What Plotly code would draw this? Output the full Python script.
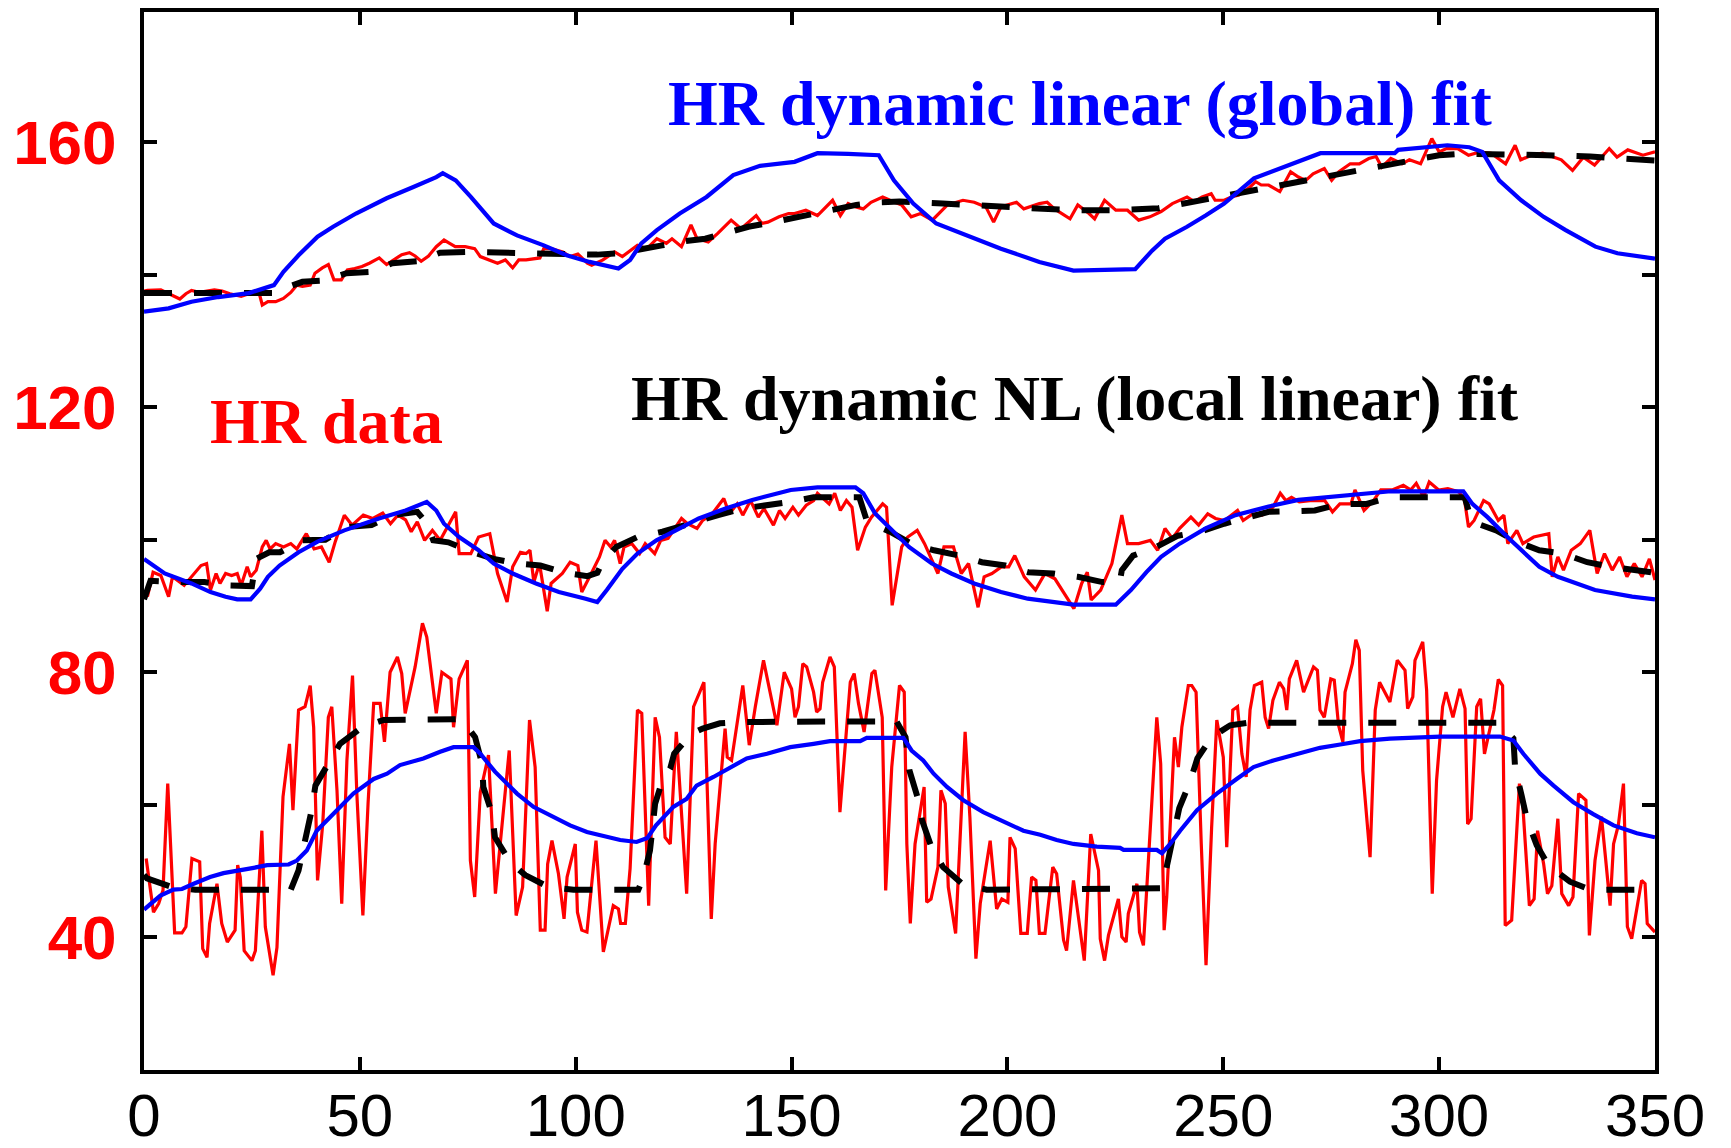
import plotly.graph_objects as go

# ---------------- upper record ----------------
upper_data_t = [0, 0.8, 3.9, 5.7, 8.3, 9.7, 11.0, 12.8, 15.0, 16.3, 18.1, 19.9, 22.5, 24.3, 26.5, 27.4, 28.7, 30.5,
                32.3, 34.0, 35.4, 36.7, 38.5, 39.6, 41.3, 42.7, 44.0, 45.7, 47.1, 48.8, 50.5, 52.2, 54.5, 56.2, 58.0,
                59.7, 61.5, 62.8, 64.2, 65.9, 67.7, 69.5, 70.8, 72.1, 74.4, 76.6, 77.9, 80.1, 81.9, 83.7, 85.4, 86.8,
                88.5, 91.7, 92.6, 94.3, 97.0, 98.7, 100.5, 102.7, 103.7, 106.3, 109.0, 110.8, 114.3, 116.5, 118.8,
                121.0, 122.3, 124.5, 126.7, 128.1, 130.7, 132.9, 136.0, 138.3, 140.0, 141.8, 143.1, 144.5, 147.1,
                149.3, 150.7, 153.3, 156.0, 159.5, 161.3, 163.1, 164.9, 166.6, 168.4, 171.1, 172.8, 175.5, 177.7,
                179.9, 182.6, 186.1, 189.7, 192.3, 195.0, 196.8, 198.5, 202.1, 203.8, 207.4, 209.2, 210.9, 214.5,
                216.3, 218.9, 220.2, 222.5, 225.1, 227.8, 230.4, 233.0, 235.6, 238.2, 239.9, 241.6, 243.3, 245.1,
                247.2, 248.1, 250.2, 251.9, 253.6, 256.2, 257.5, 258.8, 260.5, 263.1, 265.6, 267.4, 269.1, 270.8,
                273.4, 275.1, 276.8, 279.4, 281.5, 283.7, 285.4, 286.7, 288.8, 291.4, 293.1, 295.7, 298.3, 300.0,
                301.7, 304.3, 306.8, 309.4, 312.0, 315.4, 317.6, 318.9, 321.4, 324.0, 326.6, 328.3, 330.9, 333.4,
                336.0, 339.4, 341.2, 343.7, 347.2, 350.0]
upper_data_hr = [137.5, 137.6, 137.7, 137.1, 136.3, 137.1, 137.6, 137.3, 137.6, 137.7, 137.5, 137.1, 136.7, 137.1,
                 137.6, 135.4, 135.9, 135.9, 136.4, 137.3, 138.4, 138.2, 138.4, 140.2, 141.0, 141.5, 139.2, 139.2,
                 140.7, 140.9, 141.2, 141.7, 142.5, 141.5, 142.2, 143.0, 143.3, 142.8, 142.0, 142.8, 144.2, 145.2,
                 144.7, 144.2, 144.2, 143.9, 142.7, 142.2, 141.7, 142.2, 141.0, 142.2, 142.2, 142.5, 143.9, 143.9,
                 143.4, 142.7, 143.1, 141.7, 141.4, 142.2, 143.4, 142.7, 144.4, 143.9, 145.4, 144.7, 145.4, 144.2,
                 147.5, 145.4, 144.9, 146.2, 148.2, 146.9, 147.9, 148.9, 147.7, 147.9, 148.7, 149.2, 149.2, 149.7,
                 148.9, 151.2, 148.9, 150.7, 150.2, 149.9, 150.9, 151.7, 151.2, 150.5, 148.7, 149.2, 148.2, 150.5,
                 151.2, 150.9, 150.2, 147.9, 150.2, 150.9, 149.9, 150.7, 150.9, 149.9, 148.4, 150.5, 149.2, 148.4,
                 151.2, 149.7, 149.7, 148.2, 148.7, 149.5, 150.7, 151.2, 151.7, 151.0, 151.7, 152.2, 151.2, 151.2,
                 151.7, 152.0, 153.2, 154.0, 153.5, 153.5, 152.5, 155.5, 154.7, 154.2, 155.2, 156.0, 154.2, 155.5,
                 156.7, 156.7, 157.5, 157.8, 156.2, 157.5, 156.7, 157.3, 156.7, 160.5, 158.5, 159.0, 159.0, 158.0,
                 158.5, 158.3, 156.7, 159.5, 157.3, 158.0, 158.3, 157.7, 157.3, 155.7, 157.7, 156.5, 159.0, 157.7,
                 158.8, 158.0, 158.5]

upper_nl_t = [0, 30, 31, 36.7, 42, 46.9, 52.7, 57.5, 63.3, 68.6, 75.3, 100, 105, 110, 115, 120, 125, 130, 135, 140,
              145, 150, 155, 160, 165, 170, 175, 185, 195, 205, 215, 225, 230, 235, 240, 245, 250, 255, 260, 265,
              270, 275, 280, 285, 290, 295, 300, 305, 315, 325, 335, 345, 350]
upper_nl_hr = [137.2, 137.2, 137.6, 138.9, 139.1, 140.2, 140.4, 141.7, 142.0, 143.3, 143.4, 143.2, 143.0, 143.2,
               143.9, 144.4, 145.0, 145.4, 146.3, 147.2, 147.8, 148.5, 149.2, 149.9, 150.5, 150.9, 151.0, 150.7,
               150.4, 150.0, 149.7, 149.7, 149.8, 150.0, 150.6, 151.2, 152.0, 152.6, 153.2, 153.7, 154.2, 154.8,
               155.4, 156.0, 156.6, 157.3, 158.0, 158.2, 158.2, 158.0, 157.8, 157.4, 157.2]

upper_lin_t = [0, 5.7, 11, 17.2, 24.3, 30.1, 32.3, 35.8, 40.2, 43.8, 49.1, 56.2, 62.4, 67.7, 69.2, 72.2, 75.7, 81,
               86.4, 92.6, 97.9, 103.2, 109.9, 112.6, 115.2, 118.8, 124.1, 130.3, 136.5, 142.7, 150.7, 156, 163.1,
               170.2, 173.7, 178.2, 183.5, 191.5, 198.5, 207.4, 215.3, 229.6, 233.5, 236.5, 241.6, 245.9, 250.2,
               257.1, 263.1, 272.5, 289.7, 290.5, 301.9, 307, 310, 313.9, 319, 324.2, 329.3, 336.2, 341.3, 350]
upper_lin_hr = [134.4, 134.9, 135.9, 136.6, 137.2, 138.4, 140.4, 142.9, 145.7, 147.2, 149.2, 151.5, 153.2, 154.7,
                155.3, 154.2, 151.7, 147.7, 145.9, 144.4, 142.9, 141.9, 140.9, 142.2, 144.7, 146.7, 149.2, 151.7,
                155.0, 156.4, 157.0, 158.3, 158.2, 158.0, 154.2, 150.7, 147.7, 145.7, 143.9, 141.9, 140.6, 140.8,
                143.6, 145.4, 147.2, 148.9, 150.7, 154.5, 156.0, 158.3, 158.3, 158.8, 159.5, 159.2, 158.5, 154.2,
                151.2, 148.7, 146.7, 144.2, 143.2, 142.4]

# ---------------- middle record ----------------
middle_data_t = [0.8, 2.1, 3.9, 5.7, 6.6, 9.3, 13.2, 14.5, 15.4, 16.7, 17.6, 18.9, 20.3, 21.6, 22.5, 23.9, 24.7,
                 26.0, 27.4, 28.3, 29.2, 30.5, 32.3, 34.0, 35.4, 37.6, 39.4, 41.1, 42.9, 44.3, 46.4, 48.2, 50.8,
                 53.0, 55.3, 57.1, 58.8, 60.6, 61.9, 63.3, 65.0, 66.8, 68.6, 69.9, 72.2, 73.0, 75.7, 77.5, 80.1,
                 81.9, 84.1, 85.4, 87.2, 88.5, 89.4, 90.3, 91.6, 93.4, 94.3, 96.9, 98.7, 100.5, 101.4, 103.6, 105.5,
                 106.8, 108.1, 109.0, 110.3, 111.2, 113.0, 114.8, 116.1, 118.3, 119.7, 121.4, 124.5, 125.9, 128.1,
                 129.4, 131.6, 134.3, 135.6, 137.4, 138.7, 140.5, 142.3, 143.6, 145.8, 147.2, 148.5, 150.3, 151.6,
                 153.4, 155.1, 156.0, 158.7, 160.0, 161.3, 162.7, 164.0, 165.3, 167.1, 168.5, 171.1, 172.0, 173.3,
                 175.5, 176.9, 179.1, 180.8, 183.9, 185.3, 187.5, 189.3, 191.0, 193.2, 194.6, 196.4, 198.6, 200.3,
                 201.7, 203.9, 206.5, 208.7, 211.0, 213.2, 215.4, 217.2, 218.5, 219.4, 221.6, 224.2, 226.5, 227.8,
                 230.4, 233.1, 234.8, 236.5, 238.2, 239.9, 242.5, 244.3, 246.4, 248.2, 250.3, 253.3, 254.6, 256.8,
                 259.0, 261.5, 263.2, 264.5, 265.8, 267.6, 270.1, 273.5, 275.3, 277.0, 279.6, 280.5, 282.6, 284.8,
                 286.5, 289.1, 291.7, 293.4, 294.7, 296.4, 297.7, 299.9, 302.0, 304.6, 305.9, 306.8, 308.1, 310.3,
                 311.6, 313.7, 315.0, 315.9, 318.0, 319.4, 321.9, 325.4, 326.2, 327.5, 328.8, 330.6, 332.7, 334.9,
                 336.6, 338.3, 340.1, 341.8, 343.5, 345.2, 347.0, 348.7, 350.0]
middle_data_hr = [91.4, 95.1, 94.6, 91.4, 94.4, 93.1, 96.1, 96.4, 92.4, 94.9, 93.4, 94.9, 94.6, 94.9, 93.1, 95.9,
                  94.4, 95.4, 98.9, 99.9, 98.6, 99.4, 98.9, 99.4, 98.6, 100.9, 98.6, 98.9, 96.6, 99.7, 103.7, 102.2,
                  103.7, 103.2, 104.0, 102.4, 103.7, 103.0, 101.2, 102.7, 99.9, 101.4, 99.9, 101.4, 104.2, 97.9,
                  97.9, 100.4, 100.9, 94.9, 90.6, 95.9, 98.1, 97.9, 98.4, 93.6, 96.4, 89.2, 93.4, 94.9, 96.6, 96.1,
                  92.1, 94.9, 97.4, 99.9, 98.9, 99.9, 96.4, 98.9, 99.4, 97.9, 99.4, 97.9, 99.9, 100.2, 103.2, 102.4,
                  101.7, 102.9, 103.9, 106.2, 103.9, 105.4, 103.7, 105.9, 103.4, 104.7, 102.2, 104.4, 103.2, 104.9,
                  103.7, 105.2, 105.9, 107.0, 105.4, 107.0, 104.4, 105.9, 104.9, 98.4, 101.9, 103.4, 105.4, 104.9,
                  90.1, 98.9, 100.4, 101.4, 99.4, 94.9, 98.9, 98.9, 94.9, 96.4, 89.8, 94.4, 94.9, 95.9, 95.9, 97.6,
                  94.4, 92.4, 94.9, 94.1, 91.9, 89.6, 93.4, 95.1, 90.9, 92.4, 96.4, 103.7, 99.4, 99.4, 99.9, 98.4,
                  101.7, 100.2, 101.7, 103.4, 102.2, 103.9, 103.2, 102.9, 104.4, 102.9, 103.9, 103.7, 104.9, 107.0,
                  105.9, 106.4, 105.7, 105.9, 105.9, 104.2, 105.4, 105.4, 107.5, 104.4, 105.9, 107.5, 107.5, 108.2,
                  107.5, 108.5, 106.4, 108.7, 107.5, 107.7, 107.2, 105.9, 101.9, 102.9, 105.9, 105.4, 102.9, 103.7,
                  99.4, 101.4, 99.4, 100.4, 100.9, 94.4, 97.4, 95.4, 98.4, 99.4, 101.4, 94.9, 97.9, 95.4, 97.4,
                  94.4, 96.4, 94.4, 97.1, 93.9]

middle_nl_t = [0, 1.5, 8, 14, 20, 25, 26, 29, 31.5, 36.7, 42, 47, 52.7, 57.5, 63.3, 65.5, 67, 70.5, 76.3, 81, 86.4,
               91.8, 97.4, 102.7, 105, 106, 109.4, 114.3, 120.1, 125.9, 133, 138.7, 144.5, 149.8, 155.1, 165.7,
               167.5, 172.8, 177.7, 183, 188.8, 194.1, 199.5, 204.8, 210.5, 216.3, 222, 226, 226.5, 229.1, 234.5,
               239.5, 244.6, 250.2, 260.5, 266, 271.2, 277.2, 283.2, 288.8, 305.9, 307.6, 313.2, 318, 323.2, 328.7,
               334.3, 339.8, 345.4, 350]
middle_nl_hr = [91.0, 93.8, 93.6, 93.6, 93.1, 93.0, 97.1, 98.1, 98.1, 99.9, 100.0, 101.9, 102.2, 103.7, 104.2,
                102.5, 99.9, 99.6, 98.1, 97.1, 96.4, 96.1, 95.0, 94.5, 95.0, 96.4, 98.9, 100.4, 101.2, 102.4, 103.7,
                104.7, 105.2, 105.7, 106.4, 106.4, 102.7, 101.2, 99.4, 98.4, 97.6, 96.6, 96.1, 95.1, 94.9, 94.4,
                93.6, 93.6, 95.4, 97.6, 98.9, 100.6, 101.2, 102.4, 104.2, 104.4, 104.4, 105.4, 105.4, 106.4, 106.4,
                102.7, 101.4, 99.7, 98.4, 97.9, 96.6, 95.9, 95.4, 95.0]

middle_lin_t = [0, 4.8, 11, 15.4, 18.9, 21.6, 24.7, 26.9, 28.7, 31.4, 35.8, 40.2, 46.4, 54.4, 60.6, 63.3, 65.5,
                67.7, 69.5, 73, 77.5, 81, 85.4, 90.8, 96.1, 102.3, 105, 107.2, 110.8, 114.3, 118.7, 123.2, 128.5,
                134.7, 140.9, 149.8, 156, 164.8, 166.6, 169.3, 173.7, 177.2, 182.5, 187, 192.3, 198.5, 204.7, 210,
                215.3, 225.1, 228.6, 232.2, 235.6, 239.9, 245.9, 252.8, 260.5, 267.4, 280.3, 288.8, 305.6, 307.7,
                311.2, 315.5, 323.2, 327.5, 336.1, 344.7, 350]
middle_lin_hr = [97.1, 94.9, 93.4, 92.1, 91.4, 91.0, 91.0, 92.6, 94.4, 96.1, 98.1, 99.7, 101.4, 103.2, 104.4, 105.2,
                 105.7, 104.4, 102.4, 100.4, 98.4, 96.4, 94.9, 93.4, 92.1, 91.1, 90.6, 92.4, 95.6, 97.9, 99.9, 101.4,
                 103.2, 104.7, 106.0, 107.5, 107.9, 107.9, 107.0, 104.0, 101.2, 98.9, 96.4, 94.9, 93.4, 92.1, 91.1,
                 90.6, 90.2, 90.2, 92.4, 95.1, 97.4, 99.4, 101.7, 103.7, 105.0, 106.0, 106.8, 107.3, 107.3, 105.4,
                 103.4, 100.6, 95.9, 94.4, 92.4, 91.4, 91.0]

# ---------------- lower record ----------------
lower_data_t = [0.5, 2.2, 3.4, 4.4, 5.5, 7.1, 8.8, 9.7, 11.1, 12.9, 13.6, 14.6, 15.2, 16.9, 18.0, 19.3, 21.1, 21.7,
                22.3, 23.2, 25.0, 25.8, 27.3, 28.1, 29.9, 30.8, 32.2, 33.7, 34.5, 35.8, 37.3, 38.5, 39.3, 40.2,
                41.4, 42.7, 43.5, 44.7, 45.8, 47.0, 48.3, 49.3, 50.7, 51.9, 53.2, 54.7, 55.7, 57.0, 58.7, 59.7,
                60.5, 62.8, 64.5, 65.5, 67.7, 69.0, 71.1, 71.7, 73.0, 74.9, 75.6, 76.6, 77.9, 79.8, 81.4, 82.9,
                84.6, 86.2, 87.7, 89.3, 90.6, 91.8, 92.9, 93.5, 94.5, 96.0, 97.3, 98.0, 99.9, 100.4, 101.4, 102.6,
                104.7, 106.4, 108.7, 109.9, 110.4, 111.5, 112.6, 114.3, 115.3, 116.9, 118.4, 119.4, 120.7, 121.9,
                123.3, 125.7, 127.3, 129.7, 131.4, 132.3, 134.6, 135.1, 136.1, 138.7, 140.2, 141.6, 143.5, 146.6,
                148.3, 150.0, 150.8, 151.6, 152.6, 153.5, 155.1, 155.8, 156.6, 157.2, 158.9, 159.9, 161.2, 163.6,
                164.5, 165.5, 166.8, 168.6, 169.3, 171.0, 171.8, 173.2, 175.0, 176.1, 176.7, 177.5, 178.6, 180.7,
                181.3, 182.3, 183.9, 184.6, 185.6, 186.3, 188.0, 190.2, 191.3, 192.7, 193.7, 196.0, 197.5, 198.7,
                200.1, 200.6, 201.8, 203.1, 204.6, 205.6, 206.6, 207.4, 208.7, 210.5, 211.4, 213.0, 213.7, 215.3,
                217.8, 219.3, 221.1, 221.5, 222.5, 223.4, 225.7, 226.5, 227.5, 228.0, 230.0, 230.6, 231.5, 234.6,
                235.5, 236.3, 236.9, 238.7, 239.6, 240.4, 241.9, 242.7, 243.7, 244.9, 246.0, 247.3, 248.5, 250.0,
                250.8, 252.2, 253.3, 254.3, 255.3, 256.2, 257.2, 258.9, 259.7, 260.5, 261.5, 263.0, 264.0, 264.7,
                265.3, 267.0, 268.6, 270.9, 271.8, 272.4, 273.4, 274.9, 275.7, 276.7, 277.7, 278.2, 279.9, 280.7,
                281.5, 282.3, 284.0, 285.2, 286.2, 288.6, 290.3, 292.1, 292.7, 293.9, 294.4, 296.2, 297.1, 298.4,
                299.4, 300.8, 301.6, 303.2, 304.8, 306.0, 306.6, 307.4, 308.7, 309.6, 310.5, 312.7, 313.7, 314.7,
                315.3, 316.8, 317.8, 318.6, 319.4, 320.9, 322.0, 322.8, 324.2, 325.1, 326.1, 327.5, 328.4, 330.0,
                331.0, 332.3, 334.0, 334.8, 336.1, 337.6, 338.6, 339.6, 340.4, 341.5, 342.7, 343.6, 344.6, 346.9,
                347.7, 348.2, 350.0]
lower_data_hr = [51.9, 43.8, 45.1, 47.1, 63.2, 40.7, 40.7, 41.6, 51.9, 51.4, 38.3, 37.0, 42.1, 48.1, 42.1, 39.3,
                 41.1, 50.9, 49.1, 38.0, 36.5, 38.0, 56.1, 41.6, 34.3, 38.5, 61.2, 69.2, 59.2, 74.3, 74.8, 78.0,
                 71.7, 48.6, 57.1, 73.2, 74.8, 62.2, 45.1, 66.7, 79.5, 61.7, 43.3, 60.2, 75.3, 75.3, 69.5, 80.0,
                 82.3, 79.8, 73.8, 80.8, 87.4, 85.3, 73.8, 80.0, 79.0, 71.7, 79.0, 81.8, 51.6, 46.1, 61.9, 67.5,
                 46.6, 57.1, 68.2, 43.3, 47.6, 72.8, 65.7, 41.1, 41.1, 51.1, 54.6, 49.6, 42.8, 49.1, 54.1, 43.8,
                 41.1, 40.8, 54.6, 37.8, 44.8, 44.3, 42.1, 42.1, 50.4, 74.3, 73.8, 44.8, 73.2, 70.2, 55.1, 54.1,
                 71.0, 46.6, 74.8, 78.5, 42.8, 54.1, 71.5, 67.2, 66.7, 78.0, 69.0, 74.8, 81.8, 72.0, 80.0, 77.5,
                 73.2, 74.8, 81.3, 80.8, 77.0, 74.0, 74.5, 78.5, 82.3, 80.8, 58.9, 78.5, 79.8, 75.3, 71.0, 79.8,
                 80.3, 73.2, 47.1, 65.7, 78.0, 77.0, 54.1, 42.1, 54.1, 62.7, 45.3, 45.8, 50.6, 62.2, 60.2, 47.6,
                 40.6, 71.0, 58.2, 36.8, 45.1, 54.6, 44.3, 45.8, 45.3, 55.1, 53.4, 40.6, 40.6, 49.1, 48.6, 40.6,
                 40.6, 50.6, 49.6, 39.6, 38.0, 48.6, 36.5, 55.6, 50.1, 39.8, 36.5, 40.3, 45.8, 40.1, 39.3, 43.6,
                 48.1, 40.8, 38.8, 73.2, 66.2, 41.1, 46.1, 70.2, 65.7, 71.7, 78.0, 78.0, 77.0, 54.1, 35.8, 56.6,
                 72.8, 67.2, 53.6, 74.3, 74.8, 67.7, 64.2, 74.3, 78.0, 78.5, 73.2, 71.5, 75.8, 78.5, 77.5, 74.3,
                 79.0, 81.8, 77.0, 80.8, 80.3, 74.3, 73.2, 79.0, 78.8, 72.0, 69.5, 77.0, 81.3, 84.9, 83.3, 65.2,
                 52.1, 74.3, 78.5, 75.5, 81.8, 80.3, 74.5, 76.3, 81.8, 84.6, 77.3, 46.6, 63.7, 74.8, 77.0, 73.2,
                 77.5, 74.5, 57.1, 57.9, 74.8, 76.0, 67.7, 74.3, 78.9, 78.0, 41.8, 42.6, 54.1, 63.2, 59.7, 44.8,
                 45.8, 56.1, 51.1, 46.6, 47.8, 57.9, 46.6, 44.8, 46.1, 61.7, 60.7, 40.3, 51.6, 58.2, 51.6, 44.8,
                 54.1, 56.9, 63.2, 41.6, 39.8, 48.6, 48.1, 42.1, 40.8]

lower_nl_t = [0, 0.7, 6.5, 11.9, 34, 34.6, 35.8, 37.3, 38.9, 39.7, 43.0, 45.4, 50.5, 55.5, 73.6, 76.7, 78.3, 78.6,
              80.6, 81.3, 84.8, 88.3, 93.7, 99.5, 114.5, 115.7, 117.2, 118.4, 119.6, 121.9, 122.8, 126.7, 129.4,
              133.4, 139.1, 174.3, 176.4, 177.3, 179.1, 180.2, 182.4, 185.1, 189.5, 195.2, 235.5, 236.3, 237.5,
              238.5, 239.8, 242.3, 244.0, 247.3, 251.6, 256.0, 313.7, 317.2, 317.6, 319.1, 320.3, 322.6, 325.3,
              330.3, 335.0, 350.0]
lower_nl_hr = [49.4, 48.9, 47.6, 47.2, 47.2, 48.1, 50.1, 54.6, 59.4, 62.9, 66.7, 69.2, 71.7, 72.8, 72.9, 70.2,
               66.2, 62.7, 58.7, 55.1, 51.4, 49.4, 47.6, 47.2, 47.2, 49.1, 53.1, 60.2, 62.7, 65.5, 67.7, 70.7, 71.5,
               72.3, 72.5, 72.6, 70.2, 65.2, 61.3, 57.7, 53.6, 50.6, 48.1, 47.2, 47.4, 48.8, 52.5, 56.0, 59.5, 63.5,
               67.0, 70.2, 72.0, 72.4, 72.4, 70.0, 65.5, 61.4, 57.9, 53.9, 50.9, 48.4, 47.2, 47.2]

lower_lin_t = [0, 3.8, 6.8, 8.8, 11.5, 15.3, 18.4, 22.3, 25.4, 28.5, 33.5, 35.4, 37.7, 40.0, 43.1, 46.2, 48.5,
               53.2, 56.3, 59.3, 64.7, 68.6, 71.7, 76.3, 77.9, 81.3, 86.4, 90.2, 94.9, 98.7, 102.6, 107.2, 110.3,
               114.1, 116.6, 118.6, 122.6, 125.7, 128.0, 131.9, 135.8, 139.6, 144.3, 149.7, 155.1, 158.9, 165.9,
               167.4, 175.9, 177.8, 180.5, 182.9, 186.0, 189.8, 194.4, 199.1, 203.7, 207.6, 211.4, 215.3, 220.7,
               226.1, 226.9, 234.6, 235.8, 237.7, 240.0, 243.9, 248.5, 253.1, 257.0, 261.6, 267.0, 272.4, 277.1,
               281.7, 288.6, 300.2, 314.1, 317.2, 319.5, 323.4, 326.5, 331.1, 335.7, 340.4, 345.8, 350.0]
lower_lin_hr = [44.2, 46.3, 47.2, 47.3, 48.1, 49.1, 49.7, 50.1, 50.5, 50.9, 51.0, 51.6, 53.1, 56.1, 58.2, 60.2,
                61.7, 63.9, 64.7, 66.0, 67.0, 68.0, 68.7, 68.7, 67.7, 65.0, 61.7, 59.7, 58.2, 56.9, 55.9, 55.1,
                54.7, 54.4, 55.0, 56.9, 59.7, 60.9, 62.9, 64.2, 65.7, 67.0, 67.7, 68.7, 69.2, 69.6, 69.6, 70.1,
                70.1, 68.2, 66.7, 64.7, 62.7, 60.7, 58.9, 57.4, 56.1, 55.5, 54.7, 54.1, 53.7, 53.5, 53.2, 53.2,
                52.7, 54.1, 56.1, 59.2, 61.7, 63.9, 65.7, 66.7, 67.7, 68.6, 69.1, 69.6, 70.0, 70.3, 70.3, 69.7,
                67.7, 64.7, 62.9, 60.4, 58.6, 56.9, 55.7, 55.1]

# ---------------- axes ----------------
x_ticks = [0, 50, 100, 150, 200, 250, 300, 350]
y_ticks = [20, 40, 60, 80, 100, 120, 140, 160, 180]
y_tick_text = ["", "40", "", "80", "", "120", "", "160", ""]

RED = "#ff0000"
BLUE = "#0000ff"
BLACK = "#000000"

fig = go.Figure()

# raw heart-rate records underneath
for t, hr in [(upper_data_t, upper_data_hr), (middle_data_t, middle_data_hr), (lower_data_t, lower_data_hr)]:
    fig.add_trace(go.Scatter(x=t, y=hr, mode="lines", line=dict(color=RED, width=3.2),
                             hoverinfo="skip", showlegend=False))

# nonlinear (local linear) fits, dashed
for t, hr in [(upper_nl_t, upper_nl_hr), (middle_nl_t, middle_nl_hr), (lower_nl_t, lower_nl_hr)]:
    fig.add_trace(go.Scatter(x=t, y=hr, mode="lines",
                             line=dict(color=BLACK, width=6, dash="28px,22px"),
                             hoverinfo="skip", showlegend=False))

# global linear fits on top
for t, hr in [(upper_lin_t, upper_lin_hr), (middle_lin_t, middle_lin_hr), (lower_lin_t, lower_lin_hr)]:
    fig.add_trace(go.Scatter(x=t, y=hr, mode="lines", line=dict(color=BLUE, width=4.2),
                             hoverinfo="skip", showlegend=False))

label_font = "Liberation Serif, Times New Roman, serif"
fig.add_annotation(x=216.9, y=165.8, xref="x", yref="y", text="HR dynamic linear (global) fit",
                   showarrow=False, xanchor="center", yanchor="middle",
                   font=dict(family=label_font, size=64, color=BLUE, weight="bold"))
fig.add_annotation(x=215.7, y=121.3, xref="x", yref="y", text="HR dynamic NL (local linear) fit",
                   showarrow=False, xanchor="center", yanchor="middle",
                   font=dict(family=label_font, size=64, color=BLACK, weight="bold"))
fig.add_annotation(x=42.3, y=117.9, xref="x", yref="y", text="HR data",
                   showarrow=False, xanchor="center", yanchor="middle",
                   font=dict(family=label_font, size=64, color=RED, weight="bold"))

fig.update_xaxes(range=[0, 350], tickvals=x_ticks, ticktext=[str(v) for v in x_ticks],
                 showgrid=False, zeroline=False, showline=True, linecolor=BLACK, linewidth=4,
                 mirror="ticks", ticks="inside", ticklen=13, tickwidth=3.5, tickcolor=BLACK,
                 tickfont=dict(family="Liberation Sans, Arial, sans-serif", size=60, color=BLACK),
                 ticklabelstandoff=-10, automargin=False)
fig.update_yaxes(range=[20, 179.6], tickvals=y_ticks, ticktext=y_tick_text,
                 showgrid=False, zeroline=False, showline=True, linecolor=BLACK, linewidth=4,
                 mirror="ticks", ticks="inside", ticklen=13, tickwidth=3.5, tickcolor=BLACK,
                 tickfont=dict(family="Liberation Sans, Arial, sans-serif", size=62, color=RED, weight="bold"),
                 ticklabelstandoff=11, automargin=False)

fig.update_layout(width=1731, height=1148, margin=dict(l=144, r=76, t=12, b=78),
                  paper_bgcolor="white", plot_bgcolor="white", showlegend=False)

fig.write_html("out.html")
